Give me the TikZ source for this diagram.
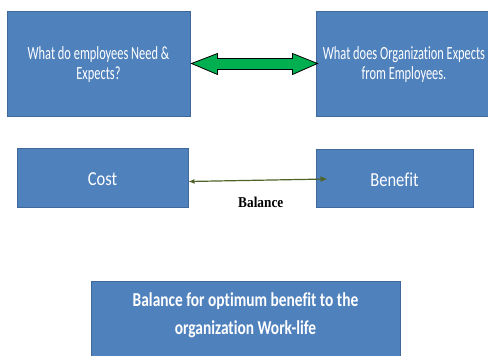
\documentclass[tikz,border=0pt]{standalone}
\usepackage{fontspec}
\usepackage{graphicx}
\setmainfont{Carlito}[Ligatures=NoCommon]
\newfontfamily\balancefont{Liberation Serif}
\usepackage{tikz}
\usetikzlibrary{positioning, calc}
\usetikzlibrary{arrows.meta}
\definecolor{boxblue}{HTML}{4F81BD}
\definecolor{boxline}{HTML}{41689A}
\definecolor{arrowgreen}{HTML}{00B050}
\definecolor{balanceolive}{HTML}{4F6228}
\newcommand{\tallstack}[2]{\scalebox{1}[#1]{\begin{tabular}[t]{@{}c@{}}#2\end{tabular}}}
\tikzstyle{squarebox}=[rectangle,draw=boxline,fill=boxblue,text=white,inner sep=0pt,line width=1pt]
\tikzstyle{greenarrow}=[fill=arrowgreen,draw=black,line width=0.8pt,line join=miter]
\tikzstyle{edgepath} = [{Latex[length=6pt,width=5pt]}-{Latex[length=7pt,width=6pt]},balanceolive,line width=1.2pt]

\begin{document}
\begin{tikzpicture}[x=1pt,y=-1pt]
        \useasboundingbox (0,0) rectangle (488,356);
        \node[squarebox, minimum width=183pt, minimum height=105pt, text height=10pt, text depth=18.4pt,
              font=\fontsize{12.4}{13.4}\selectfont] (need) at (98.5,63.5)
              {\tallstack{1.5}{What do employees Need \&\\Expects?}};
        \node[squarebox, minimum width=176pt, minimum height=105pt, text height=10pt, text depth=18.4pt,
              font=\fontsize{12.4}{13.4}\selectfont] (expect) at (404,63.5)
              {\tallstack{1.5}{What does Organization Expects\\from Employees.}};
        \node[squarebox, minimum width=171pt, minimum height=59pt, text height=16pt, text depth=0pt,
              font=\fontsize{16.5}{20}\selectfont] (cost) at (102.5,177.5) {\scalebox{1}[1.2]{Cost}};
        \node[squarebox, minimum width=157pt, minimum height=58pt, text height=16pt, text depth=0pt,
              font=\fontsize{16.5}{20}\selectfont] (benefit) at (394.5,178) {\scalebox{1}[1.2]{Benefit}};
        \node[squarebox, anchor=north, minimum width=309pt, text height=25pt, text depth=80pt,
              font=\bfseries\fontsize{15.4}{21.9}\selectfont] (worklife) at (245.5,281)
              {\tallstack{1.28}{Balance for optimum benefit to the\\organization Work-life}};
        
        % double arrow between the two questions
        \draw[greenarrow] ($(need.east)+(1,0)$) -- ++(26,-10) -- ++(0,5)
            -- ($(expect.west)+(-23,-5)$) -- ++(0,-5) -- ($(expect.west)+(2,0)$)
            -- ++(-25,11) -- ++(0,-5) -- ($(need.east)+(27,6)$) -- ++(0,5) -- cycle;
        
        \path[edgepath]
            ([yshift=-4pt]cost.east) edge node[pos=0.52, anchor=base, yshift=-27pt, text=black,
                font=\balancefont\bfseries\fontsize{13.3}{15}\selectfont] {\scalebox{1}[1.13]{Balance}}
            ([xshift=12pt,yshift=-1pt]benefit.west);
    \end{tikzpicture}
\end{document}
